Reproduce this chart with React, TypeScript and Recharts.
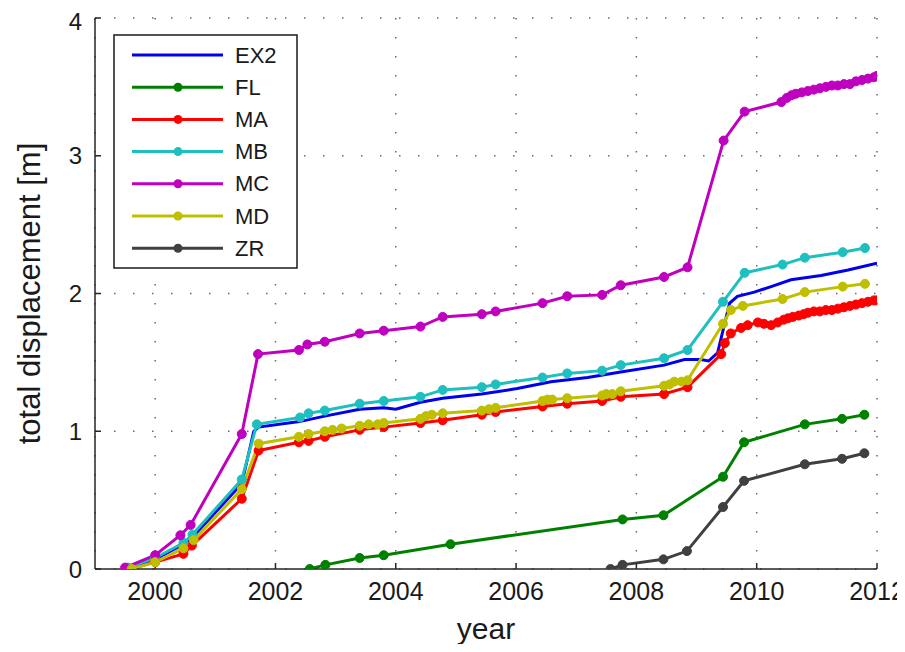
import { LineChart, Line, XAxis, YAxis, CartesianGrid, Legend } from "recharts";

const FONT = "'Liberation Sans', Arial, Helvetica, sans-serif";

const X_TICKS = [2000, 2002, 2004, 2006, 2008, 2010, 2012];
const Y_TICKS = [0, 1, 2, 3, 4];

const EX2_YEARS = [1999.45, 2000.0, 2000.47, 2000.62, 2001.44, 2001.64, 2001.72, 2002.4, 2002.82, 2003.4, 2003.8, 2004.0, 2004.41, 2004.78, 2005.43, 2006.02, 2006.58, 2007.19, 2007.74, 2008.46, 2008.8, 2009.07, 2009.2, 2009.35, 2009.55, 2009.68, 2009.96, 2010.24, 2010.57, 2011.07, 2011.52, 2012.0];
const EX2_VALUES = [0, 0.07, 0.18, 0.23, 0.62, 1.0, 1.03, 1.07, 1.11, 1.16, 1.17, 1.16, 1.21, 1.24, 1.27, 1.31, 1.36, 1.39, 1.43, 1.48, 1.52, 1.52, 1.51, 1.57, 1.93, 1.98, 2.01, 2.05, 2.1, 2.13, 2.17, 2.22];

const FL_YEARS = [2002.57, 2002.83, 2003.4, 2003.8, 2004.91, 2007.77, 2008.45, 2009.44, 2009.79, 2010.8, 2011.42, 2011.79];
const FL_VALUES = [0, 0.03, 0.08, 0.1, 0.18, 0.36, 0.39, 0.67, 0.92, 1.05, 1.09, 1.12];

const MA_YEARS = [1999.58, 2000.0, 2000.47, 2000.61, 2001.44, 2001.72, 2002.39, 2002.55, 2002.82, 2003.4, 2003.8, 2004.41, 2004.78, 2005.43, 2005.66, 2006.44, 2006.85, 2007.43, 2007.74, 2008.46, 2008.85, 2009.41, 2009.47, 2009.57, 2009.74, 2009.85, 2010.02, 2010.12, 2010.24, 2010.35, 2010.45, 2010.52, 2010.6, 2010.7, 2010.78, 2010.85, 2010.95, 2011.05, 2011.15, 2011.25, 2011.35, 2011.45, 2011.55, 2011.65, 2011.75, 2011.85, 2011.95, 2012.0];
const MA_VALUES = [0, 0.05, 0.11, 0.17, 0.51, 0.86, 0.92, 0.93, 0.96, 1.01, 1.03, 1.06, 1.08, 1.12, 1.14, 1.18, 1.2, 1.22, 1.25, 1.27, 1.32, 1.56, 1.64, 1.71, 1.75, 1.77, 1.79, 1.78, 1.77, 1.79, 1.81, 1.82, 1.83, 1.84, 1.85, 1.86, 1.87, 1.87, 1.88, 1.88, 1.89, 1.9, 1.91, 1.92, 1.93, 1.94, 1.95, 1.95];

const MB_YEARS = [1999.55, 2000.0, 2000.47, 2000.62, 2001.44, 2001.69, 2002.41, 2002.55, 2002.82, 2003.4, 2003.8, 2004.41, 2004.78, 2005.43, 2005.66, 2006.44, 2006.85, 2007.43, 2007.74, 2008.46, 2008.85, 2009.44, 2009.8, 2010.43, 2010.8, 2011.43, 2011.8];
const MB_VALUES = [0.01, 0.08, 0.19, 0.25, 0.65, 1.05, 1.1, 1.13, 1.15, 1.2, 1.22, 1.25, 1.3, 1.32, 1.34, 1.39, 1.42, 1.44, 1.48, 1.53, 1.59, 1.94, 2.15, 2.21, 2.26, 2.3, 2.33];

const MC_YEARS = [1999.5, 2000.0, 2000.42, 2000.59, 2001.44, 2001.71, 2002.39, 2002.53, 2002.82, 2003.4, 2003.8, 2004.41, 2004.78, 2005.43, 2005.66, 2006.44, 2006.85, 2007.43, 2007.74, 2008.46, 2008.85, 2009.45, 2009.8, 2010.41, 2010.5, 2010.58, 2010.65, 2010.75, 2010.85, 2010.95, 2011.05, 2011.15, 2011.25, 2011.35, 2011.45, 2011.55, 2011.65, 2011.75, 2011.85, 2011.95, 2012.0];
const MC_VALUES = [0.01, 0.1, 0.245, 0.32, 0.98, 1.56, 1.59, 1.63, 1.65, 1.71, 1.73, 1.76, 1.83, 1.85, 1.87, 1.93, 1.98, 1.99, 2.06, 2.12, 2.19, 3.11, 3.32, 3.39, 3.42, 3.44, 3.45, 3.46, 3.47, 3.48, 3.49, 3.5, 3.51, 3.51, 3.52, 3.52, 3.54, 3.55, 3.56, 3.57, 3.58];

const MD_YEARS = [1999.61, 2000.0, 2000.47, 2000.64, 2001.44, 2001.72, 2002.39, 2002.55, 2002.82, 2002.95, 2003.1, 2003.4, 2003.55, 2003.7, 2003.8, 2004.41, 2004.5, 2004.6, 2004.78, 2005.43, 2005.55, 2005.66, 2006.44, 2006.52, 2006.6, 2006.85, 2007.43, 2007.5, 2007.6, 2007.74, 2008.46, 2008.55, 2008.63, 2008.75, 2008.85, 2009.44, 2009.57, 2009.77, 2010.43, 2010.8, 2011.43, 2011.8];
const MD_VALUES = [0, 0.05, 0.15, 0.21, 0.58, 0.91, 0.96, 0.98, 1.0, 1.01, 1.02, 1.04, 1.05, 1.05, 1.06, 1.09, 1.11, 1.12, 1.13, 1.15, 1.16, 1.17, 1.22, 1.23, 1.23, 1.24, 1.26, 1.27, 1.27, 1.29, 1.33, 1.34, 1.36, 1.36, 1.37, 1.78, 1.88, 1.91, 1.96, 2.01, 2.05, 2.07];

const ZR_YEARS = [2007.57, 2007.77, 2008.45, 2008.84, 2009.44, 2009.79, 2010.8, 2011.42, 2011.79];
const ZR_VALUES = [0, 0.03, 0.07, 0.13, 0.45, 0.64, 0.76, 0.8, 0.84];

const SERIES = [
  { name: "EX2", color: "#0000ee", years: EX2_YEARS, values: EX2_VALUES, markers: false },
  { name: "FL", color: "#008000", years: FL_YEARS, values: FL_VALUES, markers: true },
  { name: "MA", color: "#ff0000", years: MA_YEARS, values: MA_VALUES, markers: true },
  { name: "MB", color: "#1fbfbf", years: MB_YEARS, values: MB_VALUES, markers: true },
  { name: "MC", color: "#bf00bf", years: MC_YEARS, values: MC_VALUES, markers: true },
  { name: "MD", color: "#bfbf00", years: MD_YEARS, values: MD_VALUES, markers: true },
  { name: "ZR", color: "#404040", years: ZR_YEARS, values: ZR_VALUES, markers: true },
];

function toPoints(years: number[], values: number[]) {
  return years.map((t, i) => ({ t, v: values[i] }));
}

// matlab-style boxed legend
function BoxLegend() {
  return (
    <svg width={185} height={235} style={{ display: "block" }}>
      <rect x={1} y={1} width={183} height={233} fill="#fff" stroke="#1a1a1a" strokeWidth={1.5} />
      {SERIES.map((s, i) => {
        const y = 21 + i * 32.2;
        return (
          <g key={s.name}>
            <line x1={19} x2={110} y1={y} y2={y} stroke={s.color} strokeWidth={3} />
            {s.markers && <circle cx={65} cy={y} r={4.5} fill={s.color} />}
            <text x={122} y={y} dominantBaseline="central" fontSize={22} fontFamily={FONT} fill="#1a1a1a">
              {s.name}
            </text>
          </g>
        );
      })}
    </svg>
  );
}

export default function App() {
  return (
    <div style={{ width: 897, height: 636, fontFamily: FONT }}>
      {/* no scrollbars, and let edge labels spill past the svg box */}
      <style>{"body{overflow:hidden} .recharts-surface{overflow:visible}"}</style>
      <LineChart width={897} height={636} margin={{ top: 10, right: 28, left: 0, bottom: 0 }}>
        <CartesianGrid stroke="#6a6a6a" strokeWidth={1.5} strokeDasharray="1.5 17.5" />
        <XAxis
          type="number"
          dataKey="t"
          domain={[1999, 2012]}
          ticks={X_TICKS}
          allowDataOverflow
          height={75}
          stroke="#262626"
          strokeWidth={1.5}
          tickSize={-6}
          tickMargin={19}
          tick={{ fontSize: 25, fill: "#1a1a1a", fontFamily: FONT }}
          label={{ value: "year", position: "center", dy: 22, fontSize: 30, fill: "#1a1a1a", fontFamily: FONT }}
        />
        <YAxis
          type="number"
          domain={[0, 4]}
          ticks={Y_TICKS}
          allowDataOverflow
          width={87}
          stroke="#262626"
          strokeWidth={1.5}
          tickSize={-6}
          tickMargin={19}
          tick={{ fontSize: 24, fill: "#1a1a1a", fontFamily: FONT }}
          label={{
            value: "total displacement [m]",
            angle: -90,
            position: "center",
            dx: -23,
            fontSize: 31,
            fill: "#1a1a1a",
            fontFamily: FONT,
          }}
        />
        <Legend
          layout="vertical"
          align="center"
          verticalAlign="middle"
          content={() => <BoxLegend />}
          wrapperStyle={{ position: "absolute", left: 105, top: 26, width: 185, height: 235 }}
        />
        {SERIES.map((s) => (
          <Line
            key={s.name}
            data={toPoints(s.years, s.values)}
            dataKey="v"
            name={s.name}
            type="linear"
            stroke={s.color}
            strokeWidth={3}
            dot={s.markers ? { r: 4.5, fill: s.color, stroke: s.color, strokeWidth: 1 } : false}
            activeDot={false}
            isAnimationActive={false}
          />
        ))}
      </LineChart>
    </div>
  );
}
